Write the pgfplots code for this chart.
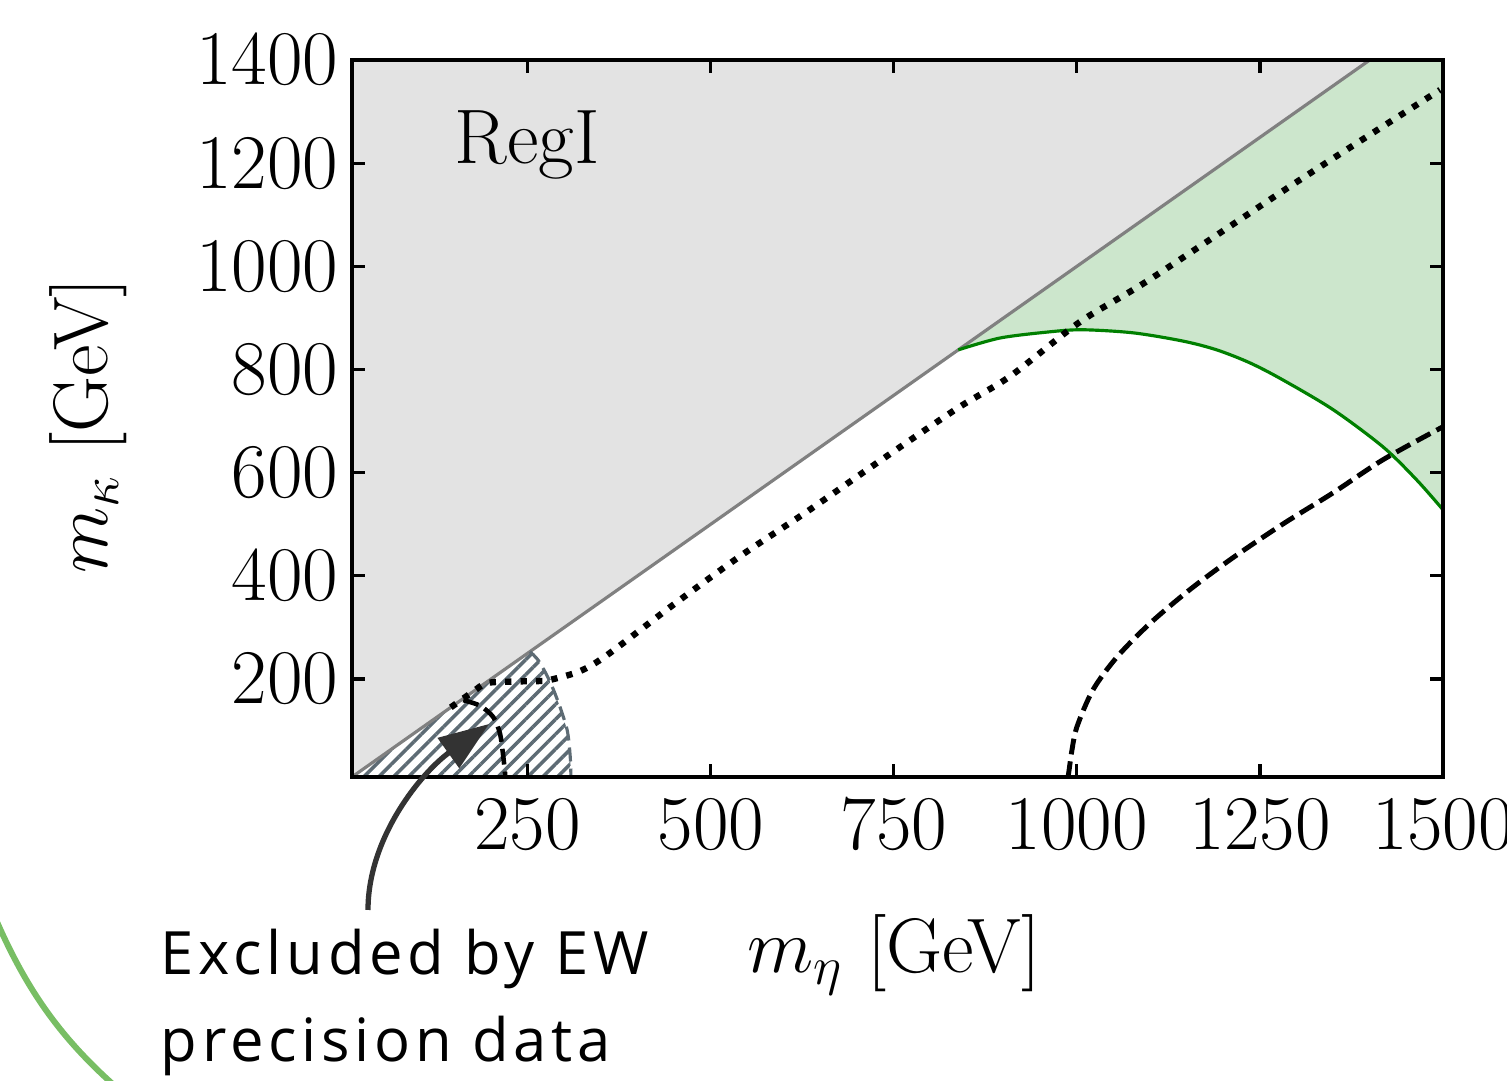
\RequirePackage{fix-cm}
\documentclass[border=0pt]{standalone}
\usepackage{fontspec}
\usepackage{pgfplots}
\pgfplotsset{compat=1.18}
\usetikzlibrary{patterns.meta,arrows.meta}
\newfontfamily\handfont{Open Sans}[LetterSpace=8.0]

\definecolor{grayfill}{RGB}{227,227,227}
\definecolor{diagc}{RGB}{128,128,128}
\definecolor{greenfill}{RGB}{204,230,204}
\definecolor{greenline}{RGB}{0,128,0}
\definecolor{hatchc}{RGB}{93,107,116}
\definecolor{arrowc}{RGB}{51,51,51}
\definecolor{decogreen}{RGB}{120,190,100}

\begin{document}
\begin{tikzpicture}
\begin{axis}[
  at={(0,0)}, anchor=south west,
  scale only axis, width=10.91cm, height=7.17cm,
  xmin=10, xmax=1500, ymin=10, ymax=1400,
  xtick={250,500,750,1000,1250,1500},
  ytick={200,400,600,800,1000,1200,1400},
  /pgf/number format/1000 sep={},
  tick align=inside,
  major tick length=0.13cm,
  every tick/.append style={black, line width=0.9pt},
  axis line style={line width=1.1pt},
  tick label style={font=\fontsize{22}{26}\selectfont},
  xticklabel style={inner sep=0pt, yshift=-0.22cm},
  yticklabel style={inner sep=0pt, xshift=-0.13cm},
  label style={font=\fontsize{22}{26}\selectfont},
  xlabel={$m_{\eta}$ [GeV]},
  ylabel={$m_{\kappa}$ [GeV]},
  xlabel style={at={(axis description cs:0.497,-0.248)}, anchor=center},
  ylabel style={at={(axis description cs:-0.242,0.49)}, anchor=center},
  axis on top,
]
% excluded (gray) region above the diagonal
\addplot[fill=grayfill, draw=none] coordinates {(10,10) (1500,1500) (10,1500)} -- cycle;

% allowed (green) region
\addplot[fill=greenfill, draw=none] coordinates {
  (838,838) (895,861) (963,873) (1008,877) (1077,871) (1145,855) (1191,838)
  (1236,813) (1281,780) (1350,722) (1418,650) (1464,586) (1500,528)
  (1500,1500)} -- cycle;

% EW precision hatch
\addplot[draw=none, pattern={Lines[angle=45,distance=3pt,line width=1pt]},
  pattern color=hatchc] coordinates {
  (10,10) (253,253) (265,235) (280,196) (293,150) (304,100) (308,50) (309,10)} -- cycle;

% diagonal
\addplot[draw=diagc, line width=0.9pt] coordinates {(10,10) (1500,1500)};

% green boundary
\addplot[draw=greenline, line width=0.9pt, smooth, tension=0.5] coordinates {
  (838,838) (895,861) (963,873) (1008,877) (1077,871) (1145,855) (1191,838)
  (1236,813) (1281,780) (1350,722) (1418,650) (1464,586) (1500,528)};

% hatch border
\addplot[draw=hatchc, line width=0.9pt, dash pattern=on 4pt off 2pt, smooth] coordinates {
  (253,253) (265,235) (280,196) (293,150) (304,100) (308,50) (309,10)};

% inner dashed curve
\addplot[draw=black, line width=1.3pt, dash pattern=on 4.5pt off 2pt, smooth] coordinates {
  (162,159) (185,148) (203,126) (212,95) (216,57) (219,18) (219,10)};

% dotted curve
\addplot[draw=black, line width=1.8pt, dash pattern=on 1.8pt off 2.6pt, smooth, tension=0.5] coordinates {
  (145,145) (175,175) (194,192) (230,195) (267,196) (280,198) (321,215)
  (358,246) (448,343) (540,438) (632,525) (722,614) (836,724) (909,787)
  (1004,892) (1100,975) (1305,1168) (1496,1342)};

% dashed curve
\addplot[draw=black, line width=1.4pt, dash pattern=on 4.5pt off 2pt, smooth, tension=0.5] coordinates {
  (988,10) (990,30) (993,60) (1000,107) (1022,179) (1055,243) (1100,308)
  (1155,374) (1213,435) (1282,501) (1350,561) (1418,625) (1500,689)};

\node[anchor=base, font=\fontsize{22}{26}\selectfont] at (axis cs:249,1200) {RegI};
\end{axis}

% annotation
\draw[arrowc, line width=1.5pt, -{Triangle[length=0.5cm,width=0.36cm]}]
  (0.16,-1.33) .. controls (0.16,-0.6) and (0.70,0.05) .. (1.37,0.53);
\node[anchor=base west, inner sep=0pt, font=\handfont\fontsize{17}{20}\selectfont] at (-1.92,-1.98) {Excluded by EW};
\node[anchor=base west, inner sep=0pt, font=\handfont\fontsize{17}{20}\selectfont] at (-1.92,-2.85) {precision data};

% slide decoration
\draw[decogreen, line width=1.7pt] (-3.58,-1.38) .. controls (-3.25,-2.15) and (-2.9,-2.62) .. (-2.36,-3.1);

\pgfresetboundingbox
\path (-3.52,-3.04) rectangle (11.55,7.77);
\end{tikzpicture}
\end{document}
